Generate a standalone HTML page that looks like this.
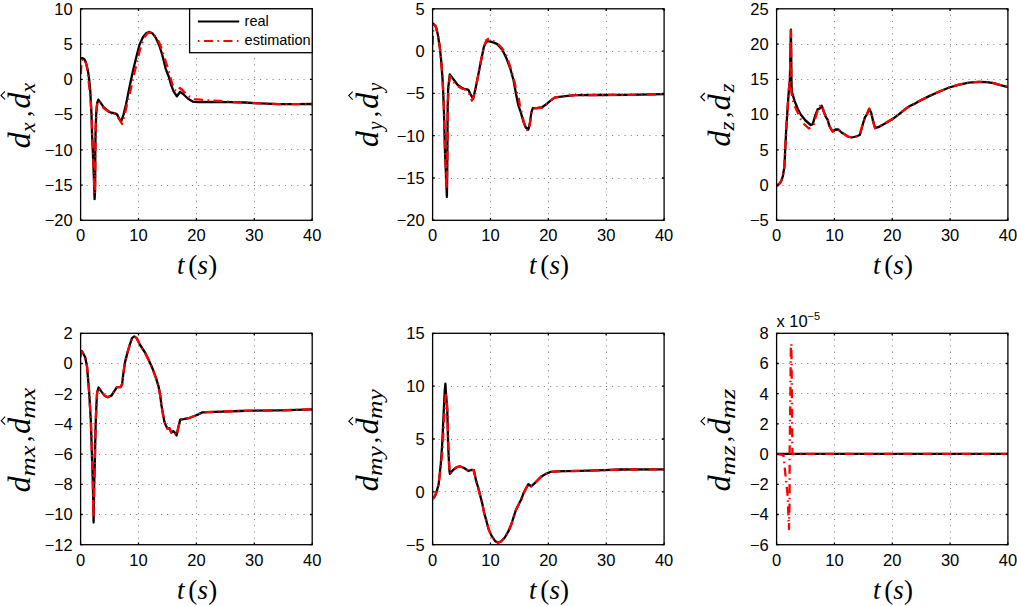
<!DOCTYPE html><html><head><meta charset="utf-8"><style>html,body{margin:0;padding:0;background:#fff;}svg{display:block;}.tk{font-family:"Liberation Sans",sans-serif;font-size:16.5px;fill:#000;}.mt{font-family:"Liberation Serif",serif;fill:#000;}</style></head><body>
<svg width="1017" height="606" viewBox="0 0 1017 606">
<rect width="1017" height="606" fill="#fff"/>
<g stroke="#7a7a7a" stroke-width="1" stroke-dasharray="1 5.2" stroke-dashoffset="0.25"><line x1="138.5" y1="8.8" x2="138.5" y2="220.3"/><line x1="196.5" y1="8.8" x2="196.5" y2="220.3"/><line x1="254.5" y1="8.8" x2="254.5" y2="220.3"/><line x1="80.6" y1="44.5" x2="312.2" y2="44.5"/><line x1="80.6" y1="79.5" x2="312.2" y2="79.5"/><line x1="80.6" y1="114.5" x2="312.2" y2="114.5"/><line x1="80.6" y1="149.5" x2="312.2" y2="149.5"/><line x1="80.6" y1="185.5" x2="312.2" y2="185.5"/></g>
<clipPath id="c0"><rect x="80.4" y="8.6" width="232" height="211.9"/></clipPath>
<g clip-path="url(#c0)"><path d="M80.6 58.5L82.0 58.1L83.5 58.6L84.8 59.8L85.8 62.2L86.7 65.7L87.5 69.0L88.2 72.7L89.2 79.6L90.2 89.5L90.7 99.4L91.5 115.0L92.1 134.8L93.2 159.5L94.1 184.3L94.6 199.1L95.1 190.0L95.2 176.0L95.3 151.0L95.6 130.0L96.3 112.0L97.2 103.0L98.3 99.6L100.9 103.2L103.6 107.2L106.9 109.8L110.2 112.4L114.1 113.2L116.8 114.1L118.8 117.7L121.1 121.7L123.4 115.1L126.0 104.5L128.5 92.0L131.0 80.0L133.5 68.5L136.9 54.7L139.5 44.8L142.8 37.5L146.1 33.3L149.4 31.9L152.7 33.6L156.0 38.2L159.3 45.5L162.3 55.0L165.8 69.1L168.7 76.5L171.1 84.8L173.6 91.4L176.9 96.3L180.2 91.8L183.9 94.7L188.1 98.8L193.0 101.7L198.0 102.1L210.0 101.8L230.0 102.1L245.0 102.5L254.0 103.1L279.0 104.2L295.0 104.2L312.2 104.0" fill="none" stroke="#000" stroke-width="2.3" stroke-linejoin="round"/><path d="M80.9 74.0L81.2 66.0L81.8 61.0L83.0 58.8L84.8 60.0L86.2 63.8L87.5 70.0L88.7 81.6L89.7 91.5L90.6 100.0L91.6 115.0L92.2 134.8L93.3 159.5L94.1 180.0L94.6 194.0L95.1 185.0L95.3 165.0L95.5 145.0L95.8 127.0L96.5 110.0L97.4 102.5L98.4 100.5L101.0 104.0L103.6 108.0L107.0 110.5L110.2 113.0L114.1 113.5L116.8 115.0L119.0 119.0L122.1 124.0L124.0 117.7L126.2 108.0L128.0 99.9L130.0 92.6L132.5 81.0L134.8 71.0L136.6 64.6L138.4 56.0L140.2 48.8L142.5 42.0L144.8 36.9L147.0 33.8L149.5 32.3L152.5 33.2L155.5 36.5L158.0 40.2L160.0 44.5L162.0 49.4L164.6 58.0L167.5 67.0L170.0 76.0L172.4 84.5L174.5 89.5L176.5 91.5L178.2 90.5L179.8 88.0L182.0 89.5L183.9 91.8L188.9 96.3L194.7 99.2L200.4 99.6L207.9 100.4L220.0 101.0L234.0 102.2L245.0 102.5L254.0 103.1L279.0 104.2L295.0 104.2L312.2 104.0" fill="none" stroke="#f00" stroke-width="2.3" stroke-linejoin="round" stroke-dasharray="9 4.5 1.5 4.5"/></g>
<path d="M80.6 220.3v-2.2M80.6 8.8v2.2M138.5 220.3v-2.2M138.5 8.8v2.2M196.4 220.3v-2.2M196.4 8.8v2.2M254.3 220.3v-2.2M254.3 8.8v2.2M312.2 220.3v-2.2M312.2 8.8v2.2M80.6 8.8h2.2M312.2 8.8h-2.2M80.6 44.05h2.2M312.2 44.05h-2.2M80.6 79.3h2.2M312.2 79.3h-2.2M80.6 114.55h2.2M312.2 114.55h-2.2M80.6 149.8h2.2M312.2 149.8h-2.2M80.6 185.05h2.2M312.2 185.05h-2.2M80.6 220.3h2.2M312.2 220.3h-2.2" stroke="#000" stroke-width="1.3" fill="none"/>
<rect x="80.6" y="8.8" width="231.6" height="211.5" fill="none" stroke="#000" stroke-width="1.3"/>
<g class="tk"><text x="80.6" y="241.2" text-anchor="middle">0</text><text x="138.5" y="241.2" text-anchor="middle">10</text><text x="196.4" y="241.2" text-anchor="middle">20</text><text x="254.3" y="241.2" text-anchor="middle">30</text><text x="312.2" y="241.2" text-anchor="middle">40</text><text x="72.7" y="14.7" text-anchor="end">10</text><text x="72.7" y="49.95" text-anchor="end">5</text><text x="72.7" y="85.2" text-anchor="end">0</text><text x="72.7" y="120.45" text-anchor="end">−5</text><text x="72.7" y="155.7" text-anchor="end">−10</text><text x="72.7" y="190.95" text-anchor="end">−15</text><text x="72.7" y="226.2" text-anchor="end">−20</text></g>
<g stroke="#7a7a7a" stroke-width="1" stroke-dasharray="1 5.2" stroke-dashoffset="0.25"><line x1="490.5" y1="8.8" x2="490.5" y2="220.3"/><line x1="548.5" y1="8.8" x2="548.5" y2="220.3"/><line x1="606.5" y1="8.8" x2="606.5" y2="220.3"/><line x1="432.6" y1="51.5" x2="664.1" y2="51.5"/><line x1="432.6" y1="93.5" x2="664.1" y2="93.5"/><line x1="432.6" y1="135.5" x2="664.1" y2="135.5"/><line x1="432.6" y1="178.5" x2="664.1" y2="178.5"/></g>
<clipPath id="c1"><rect x="432.4" y="8.6" width="231.9" height="211.9"/></clipPath>
<g clip-path="url(#c1)"><path d="M432.6 24.0L433.3 23.6L435.9 26.9L437.9 34.8L439.9 48.0L441.2 61.2L442.5 78.4L443.3 95.0L443.9 109.8L444.9 149.4L445.9 173.0L446.9 196.9L447.2 175.0L447.4 150.0L447.5 129.6L447.7 105.0L448.2 88.0L449.8 74.4L453.8 79.7L457.7 85.0L461.7 87.7L464.0 88.8L467.0 89.3L468.6 90.1L470.6 94.7L473.2 98.7L475.9 86.8L478.5 73.6L481.1 60.4L483.8 47.2L485.5 43.0L487.1 41.2L491.7 41.9L497.0 43.9L502.3 49.8L506.2 57.7L510.2 68.3L513.5 80.0L515.3 90.0L516.8 97.8L518.4 105.7L520.9 112.7L523.4 121.6L525.8 127.5L528.3 129.5L529.8 123.6L531.3 112.7L532.8 108.2L537.7 108.0L541.7 107.5L545.6 104.8L549.6 101.3L554.6 97.6L559.5 96.8L565.4 96.1L575.5 95.2L600.0 95.0L630.0 94.8L664.1 94.1" fill="none" stroke="#000" stroke-width="2.3" stroke-linejoin="round"/><path d="M432.6 45.0L433.0 32.0L434.0 25.0L435.5 25.5L438.0 35.0L440.0 48.5L441.3 61.5L442.6 78.4L443.4 95.0L444.0 110.0L445.0 149.0L445.9 170.0L446.6 189.0L447.1 170.0L447.4 150.0L447.6 130.0L447.9 105.0L448.5 88.0L450.0 76.0L452.0 80.0L454.0 82.5L457.7 86.0L461.7 88.5L465.0 89.5L468.6 92.0L470.6 97.0L471.9 100.7L474.0 95.0L476.5 84.0L479.0 71.0L481.5 58.0L484.0 47.0L486.5 40.0L489.1 38.6L492.5 40.5L497.5 43.5L501.0 47.0L504.9 52.0L508.0 60.0L511.5 71.0L514.5 82.0L516.5 91.0L518.8 98.7L520.0 106.0L521.8 113.0L523.8 122.0L526.0 128.5L528.0 131.0L529.8 125.0L531.3 113.0L532.8 108.5L537.7 108.0L541.7 107.5L545.6 104.8L549.6 101.3L554.6 97.6L559.5 96.8L565.4 96.1L575.5 95.2L600.0 95.0L630.0 94.8L664.1 94.1" fill="none" stroke="#f00" stroke-width="2.3" stroke-linejoin="round" stroke-dasharray="9 4.5 1.5 4.5"/></g>
<path d="M432.6 220.3v-2.2M432.6 8.8v2.2M490.48 220.3v-2.2M490.48 8.8v2.2M548.35 220.3v-2.2M548.35 8.8v2.2M606.23 220.3v-2.2M606.23 8.8v2.2M664.1 220.3v-2.2M664.1 8.8v2.2M432.6 8.8h2.2M664.1 8.8h-2.2M432.6 51.1h2.2M664.1 51.1h-2.2M432.6 93.4h2.2M664.1 93.4h-2.2M432.6 135.7h2.2M664.1 135.7h-2.2M432.6 178h2.2M664.1 178h-2.2M432.6 220.3h2.2M664.1 220.3h-2.2" stroke="#000" stroke-width="1.3" fill="none"/>
<rect x="432.6" y="8.8" width="231.5" height="211.5" fill="none" stroke="#000" stroke-width="1.3"/>
<g class="tk"><text x="432.6" y="241.2" text-anchor="middle">0</text><text x="490.48" y="241.2" text-anchor="middle">10</text><text x="548.35" y="241.2" text-anchor="middle">20</text><text x="606.23" y="241.2" text-anchor="middle">30</text><text x="664.1" y="241.2" text-anchor="middle">40</text><text x="424.7" y="14.7" text-anchor="end">5</text><text x="424.7" y="57" text-anchor="end">0</text><text x="424.7" y="99.3" text-anchor="end">−5</text><text x="424.7" y="141.6" text-anchor="end">−10</text><text x="424.7" y="183.9" text-anchor="end">−15</text><text x="424.7" y="226.2" text-anchor="end">−20</text></g>
<g stroke="#7a7a7a" stroke-width="1" stroke-dasharray="1 5.2" stroke-dashoffset="0.25"><line x1="834.5" y1="8.8" x2="834.5" y2="220.3"/><line x1="892.5" y1="8.8" x2="892.5" y2="220.3"/><line x1="950.5" y1="8.8" x2="950.5" y2="220.3"/><line x1="776.6" y1="44.5" x2="1007.9" y2="44.5"/><line x1="776.6" y1="79.5" x2="1007.9" y2="79.5"/><line x1="776.6" y1="114.5" x2="1007.9" y2="114.5"/><line x1="776.6" y1="149.5" x2="1007.9" y2="149.5"/><line x1="776.6" y1="185.5" x2="1007.9" y2="185.5"/></g>
<clipPath id="c2"><rect x="776.4" y="8.6" width="231.7" height="211.9"/></clipPath>
<g clip-path="url(#c2)"><path d="M776.6 185.6L777.5 185.4L779.9 183.2L781.5 180.5L782.9 175.8L784.4 166.9L785.1 152.0L786.2 129.7L787.2 114.9L787.8 105.0L788.9 89.7L789.9 79.8L790.5 50.0L790.9 29.6L791.2 50.0L791.4 75.0L791.6 86.0L792.0 92.3L794.5 100.7L797.8 109.0L800.9 114.7L805.5 120.5L810.8 125.0L812.8 124.1L815.2 115.6L817.7 109.2L819.7 108.7L821.7 105.7L823.7 111.7L825.6 116.6L827.6 119.6L829.6 126.5L832.6 131.5L835.5 129.5L838.5 129.5L841.5 132.5L844.5 134.2L847.9 136.5L851.9 137.5L855.8 136.5L859.8 135.0L861.8 127.6L864.8 117.7L867.2 113.8L869.2 108.8L871.2 112.8L873.2 121.7L875.1 128.1L879.6 126.6L884.6 123.7L889.5 120.7L894.5 117.7L899.4 113.8L904.4 109.8L909.3 106.3L914.3 103.9L919.8 100.8L929.7 95.9L939.5 91.5L949.3 87.5L959.2 84.6L969.0 82.6L978.8 81.8L986.7 82.1L993.6 83.1L1000.5 85.1L1007.9 87.2" fill="none" stroke="#000" stroke-width="2.3" stroke-linejoin="round"/><path d="M776.6 185.6L777.5 185.4L779.9 183.2L781.5 180.5L782.9 175.8L784.4 166.9L785.1 152.0L786.2 129.7L787.2 114.9L787.8 105.0L788.9 89.7L789.9 79.8L790.5 50.0L790.9 30.5L791.1 55.0L791.3 80.0L791.4 92.7L793.9 104.6L797.3 111.5L800.8 119.4L804.0 124.0L808.8 128.5L812.0 127.0L814.0 124.0L816.0 116.0L818.5 108.0L821.2 104.3L823.7 111.0L825.6 116.6L827.6 119.6L829.6 126.5L832.6 131.5L835.5 129.5L838.5 129.5L841.5 132.5L844.5 134.2L847.9 136.5L851.9 137.5L855.8 136.5L859.8 135.0L861.8 127.6L864.8 117.7L867.2 113.8L869.2 108.8L871.2 112.8L873.2 121.7L875.1 128.1L879.6 126.6L884.6 123.7L889.5 120.7L894.5 117.7L899.4 113.8L904.4 109.8L909.3 106.3L914.3 103.9L919.8 100.8L929.7 95.9L939.5 91.5L949.3 87.5L959.2 84.6L969.0 82.6L978.8 81.8L986.7 82.1L993.6 83.1L1000.5 85.1L1007.9 87.2" fill="none" stroke="#f00" stroke-width="2.3" stroke-linejoin="round" stroke-dasharray="9 4.5 1.5 4.5"/></g>
<path d="M776.6 220.3v-2.2M776.6 8.8v2.2M834.42 220.3v-2.2M834.42 8.8v2.2M892.25 220.3v-2.2M892.25 8.8v2.2M950.08 220.3v-2.2M950.08 8.8v2.2M1007.9 220.3v-2.2M1007.9 8.8v2.2M776.6 8.8h2.2M1007.9 8.8h-2.2M776.6 44.05h2.2M1007.9 44.05h-2.2M776.6 79.3h2.2M1007.9 79.3h-2.2M776.6 114.55h2.2M1007.9 114.55h-2.2M776.6 149.8h2.2M1007.9 149.8h-2.2M776.6 185.05h2.2M1007.9 185.05h-2.2M776.6 220.3h2.2M1007.9 220.3h-2.2" stroke="#000" stroke-width="1.3" fill="none"/>
<rect x="776.6" y="8.8" width="231.3" height="211.5" fill="none" stroke="#000" stroke-width="1.3"/>
<g class="tk"><text x="776.6" y="241.2" text-anchor="middle">0</text><text x="834.42" y="241.2" text-anchor="middle">10</text><text x="892.25" y="241.2" text-anchor="middle">20</text><text x="950.08" y="241.2" text-anchor="middle">30</text><text x="1007.9" y="241.2" text-anchor="middle">40</text><text x="768.7" y="14.7" text-anchor="end">25</text><text x="768.7" y="49.95" text-anchor="end">20</text><text x="768.7" y="85.2" text-anchor="end">15</text><text x="768.7" y="120.45" text-anchor="end">10</text><text x="768.7" y="155.7" text-anchor="end">5</text><text x="768.7" y="190.95" text-anchor="end">0</text><text x="768.7" y="226.2" text-anchor="end">−5</text></g>
<g stroke="#7a7a7a" stroke-width="1" stroke-dasharray="1 5.2" stroke-dashoffset="0.25"><line x1="138.5" y1="333.3" x2="138.5" y2="544.7"/><line x1="196.5" y1="333.3" x2="196.5" y2="544.7"/><line x1="254.5" y1="333.3" x2="254.5" y2="544.7"/><line x1="80.6" y1="363.5" x2="312.2" y2="363.5"/><line x1="80.6" y1="393.5" x2="312.2" y2="393.5"/><line x1="80.6" y1="423.5" x2="312.2" y2="423.5"/><line x1="80.6" y1="454.5" x2="312.2" y2="454.5"/><line x1="80.6" y1="484.5" x2="312.2" y2="484.5"/><line x1="80.6" y1="514.5" x2="312.2" y2="514.5"/></g>
<clipPath id="c3"><rect x="80.4" y="333.1" width="232" height="211.8"/></clipPath>
<g clip-path="url(#c3)"><path d="M80.8 350.8L82.0 351.2L85.2 357.2L87.0 366.4L87.9 377.0L89.2 392.8L89.9 405.0L90.8 420.0L91.3 434.8L92.1 459.6L92.9 484.4L93.6 522.6L94.2 484.4L94.9 459.6L95.4 434.8L95.8 420.0L96.5 403.4L97.1 392.8L98.5 387.5L101.8 392.1L104.4 395.4L107.7 397.2L111.7 395.4L113.5 392.4L116.9 387.2L120.4 387.2L122.1 384.3L123.3 373.9L125.0 362.4L127.3 353.1L129.7 345.0L132.0 338.1L134.3 336.4L136.6 338.1L140.1 345.0L144.7 352.0L149.3 361.2L152.8 369.3L156.2 378.6L158.6 386.6L160.3 396.0L161.4 404.9L162.9 413.8L164.4 421.7L165.9 425.6L167.4 428.6L169.4 428.1L171.3 432.6L173.3 431.1L174.8 432.6L176.6 435.5L178.3 427.6L180.2 419.7L183.7 419.2L188.7 418.2L193.6 416.2L198.6 414.3L202.5 412.3L207.5 412.2L215.0 411.8L240.0 411.0L254.0 410.7L280.0 410.3L312.2 409.4" fill="none" stroke="#000" stroke-width="2.3" stroke-linejoin="round"/><path d="M80.6 357.0L81.3 352.5L82.0 351.2L85.2 357.2L87.0 366.4L87.9 377.0L89.2 392.8L89.9 405.0L90.8 420.0L91.3 434.8L92.1 459.6L92.9 484.4L93.4 518.0L94.2 484.4L94.9 459.6L95.4 434.8L95.8 420.0L96.5 403.4L97.1 392.8L98.5 387.5L101.8 392.1L104.4 395.4L107.7 397.2L111.7 395.4L113.5 392.4L116.9 387.2L120.4 387.2L122.1 384.3L123.3 373.9L125.0 362.4L127.3 353.1L129.7 345.0L132.0 338.1L134.3 336.4L136.6 338.1L140.1 345.0L144.7 352.0L149.3 361.2L152.8 369.3L156.2 378.6L158.6 386.6L160.3 396.0L161.4 404.9L162.9 413.8L164.4 421.7L165.9 425.6L167.4 428.6L169.4 428.1L171.3 432.6L173.3 431.1L174.8 432.6L176.6 435.5L178.3 427.6L180.2 419.7L183.7 419.2L188.7 418.2L193.6 416.2L198.6 414.3L202.5 412.3L207.5 412.2L215.0 411.8L240.0 411.0L254.0 410.7L280.0 410.3L312.2 409.4" fill="none" stroke="#f00" stroke-width="2.3" stroke-linejoin="round" stroke-dasharray="9 4.5 1.5 4.5"/></g>
<path d="M80.6 544.7v-2.2M80.6 333.3v2.2M138.5 544.7v-2.2M138.5 333.3v2.2M196.4 544.7v-2.2M196.4 333.3v2.2M254.3 544.7v-2.2M254.3 333.3v2.2M312.2 544.7v-2.2M312.2 333.3v2.2M80.6 333.3h2.2M312.2 333.3h-2.2M80.6 363.5h2.2M312.2 363.5h-2.2M80.6 393.7h2.2M312.2 393.7h-2.2M80.6 423.9h2.2M312.2 423.9h-2.2M80.6 454.1h2.2M312.2 454.1h-2.2M80.6 484.3h2.2M312.2 484.3h-2.2M80.6 514.5h2.2M312.2 514.5h-2.2M80.6 544.7h2.2M312.2 544.7h-2.2" stroke="#000" stroke-width="1.3" fill="none"/>
<rect x="80.6" y="333.3" width="231.6" height="211.4" fill="none" stroke="#000" stroke-width="1.3"/>
<g class="tk"><text x="80.6" y="565.6" text-anchor="middle">0</text><text x="138.5" y="565.6" text-anchor="middle">10</text><text x="196.4" y="565.6" text-anchor="middle">20</text><text x="254.3" y="565.6" text-anchor="middle">30</text><text x="312.2" y="565.6" text-anchor="middle">40</text><text x="72.7" y="339.2" text-anchor="end">2</text><text x="72.7" y="369.4" text-anchor="end">0</text><text x="72.7" y="399.6" text-anchor="end">−2</text><text x="72.7" y="429.8" text-anchor="end">−4</text><text x="72.7" y="460" text-anchor="end">−6</text><text x="72.7" y="490.2" text-anchor="end">−8</text><text x="72.7" y="520.4" text-anchor="end">−10</text><text x="72.7" y="550.6" text-anchor="end">−12</text></g>
<g stroke="#7a7a7a" stroke-width="1" stroke-dasharray="1 5.2" stroke-dashoffset="0.25"><line x1="490.5" y1="333.3" x2="490.5" y2="544.7"/><line x1="548.5" y1="333.3" x2="548.5" y2="544.7"/><line x1="606.5" y1="333.3" x2="606.5" y2="544.7"/><line x1="432.6" y1="386.5" x2="664.1" y2="386.5"/><line x1="432.6" y1="439.5" x2="664.1" y2="439.5"/><line x1="432.6" y1="491.5" x2="664.1" y2="491.5"/></g>
<clipPath id="c4"><rect x="432.4" y="333.1" width="231.9" height="211.8"/></clipPath>
<g clip-path="url(#c4)"><path d="M432.6 498.5L434.0 497.5L435.4 495.0L437.0 490.5L438.6 484.3L440.7 465.0L442.2 444.3L443.8 409.7L444.8 390.0L445.4 383.6L446.1 395.0L447.3 409.7L448.1 444.3L449.3 469.3L449.9 473.8L453.3 469.8L456.7 467.2L460.4 466.5L464.1 468.0L468.6 471.0L471.5 469.8L473.8 470.2L476.0 480.2L478.2 487.7L480.4 496.4L482.3 503.6L484.1 512.7L486.4 520.9L488.6 529.1L491.3 535.4L495.0 540.9L498.2 542.7L501.3 541.3L505.0 537.2L508.6 530.9L511.3 524.5L513.6 517.2L515.9 510.0L519.5 502.7L521.2 499.5L523.3 493.8L525.8 488.8L528.3 484.3L531.1 486.3L534.0 483.9L537.3 480.6L541.5 476.4L545.6 474.0L550.6 471.9L557.2 471.3L565.4 471.1L580.0 470.9L605.0 470.2L620.0 469.5L664.1 469.4" fill="none" stroke="#000" stroke-width="2.3" stroke-linejoin="round"/><path d="M432.6 498.5L434.0 497.5L435.4 495.0L437.0 490.5L438.6 484.3L440.9 465.0L442.5 450.0L444.0 420.0L445.2 400.0L446.0 393.0L446.8 400.0L447.6 420.0L448.3 445.0L449.4 469.0L449.9 473.8L453.3 469.8L456.7 467.2L460.4 466.5L464.1 468.0L468.6 471.0L471.5 469.8L473.8 470.2L476.0 480.2L478.2 487.7L480.4 496.4L482.3 503.6L484.1 512.7L486.4 520.9L488.6 529.1L491.3 535.4L495.0 540.9L498.2 542.7L501.3 541.3L505.0 537.2L508.6 530.9L511.3 524.5L513.6 517.2L515.9 510.0L519.5 502.7L521.2 499.5L523.3 493.8L525.8 488.8L528.3 484.3L531.1 486.3L534.0 483.9L537.3 480.6L541.5 476.4L545.6 474.0L550.6 471.9L557.2 471.3L565.4 471.1L580.0 470.9L605.0 470.2L620.0 469.5L664.1 469.4" fill="none" stroke="#f00" stroke-width="2.3" stroke-linejoin="round" stroke-dasharray="9 4.5 1.5 4.5"/></g>
<path d="M432.6 544.7v-2.2M432.6 333.3v2.2M490.48 544.7v-2.2M490.48 333.3v2.2M548.35 544.7v-2.2M548.35 333.3v2.2M606.23 544.7v-2.2M606.23 333.3v2.2M664.1 544.7v-2.2M664.1 333.3v2.2M432.6 333.3h2.2M664.1 333.3h-2.2M432.6 386.15h2.2M664.1 386.15h-2.2M432.6 439h2.2M664.1 439h-2.2M432.6 491.85h2.2M664.1 491.85h-2.2M432.6 544.7h2.2M664.1 544.7h-2.2" stroke="#000" stroke-width="1.3" fill="none"/>
<rect x="432.6" y="333.3" width="231.5" height="211.4" fill="none" stroke="#000" stroke-width="1.3"/>
<g class="tk"><text x="432.6" y="565.6" text-anchor="middle">0</text><text x="490.48" y="565.6" text-anchor="middle">10</text><text x="548.35" y="565.6" text-anchor="middle">20</text><text x="606.23" y="565.6" text-anchor="middle">30</text><text x="664.1" y="565.6" text-anchor="middle">40</text><text x="424.7" y="339.2" text-anchor="end">15</text><text x="424.7" y="392.05" text-anchor="end">10</text><text x="424.7" y="444.9" text-anchor="end">5</text><text x="424.7" y="497.75" text-anchor="end">0</text><text x="424.7" y="550.6" text-anchor="end">−5</text></g>
<g stroke="#7a7a7a" stroke-width="1" stroke-dasharray="1 5.2" stroke-dashoffset="0.25"><line x1="834.5" y1="333.3" x2="834.5" y2="544.7"/><line x1="892.5" y1="333.3" x2="892.5" y2="544.7"/><line x1="950.5" y1="333.3" x2="950.5" y2="544.7"/><line x1="776.6" y1="363.5" x2="1007.9" y2="363.5"/><line x1="776.6" y1="393.5" x2="1007.9" y2="393.5"/><line x1="776.6" y1="423.5" x2="1007.9" y2="423.5"/><line x1="776.6" y1="454.5" x2="1007.9" y2="454.5"/><line x1="776.6" y1="484.5" x2="1007.9" y2="484.5"/><line x1="776.6" y1="514.5" x2="1007.9" y2="514.5"/></g>
<clipPath id="c5"><rect x="776.4" y="333.1" width="231.7" height="211.8"/></clipPath>
<g clip-path="url(#c5)"><path d="M776.6 453.9L1007.9 453.9" fill="none" stroke="#000" stroke-width="2.3" stroke-linejoin="round"/><path d="M776.6 453.9L783.4 455.0L786.0 480.0L787.5 494.0L789.0 529.0L789.6 500.0L789.6 454.0L790.3 400.0L790.9 344.0L791.4 344.0L791.9 400.0L792.4 454.0L795.0 453.9L1007.9 453.9" fill="none" stroke="#f00" stroke-width="2.3" stroke-linejoin="round" stroke-dasharray="9 4.5 1.5 4.5"/></g>
<path d="M776.6 544.7v-2.2M776.6 333.3v2.2M834.42 544.7v-2.2M834.42 333.3v2.2M892.25 544.7v-2.2M892.25 333.3v2.2M950.08 544.7v-2.2M950.08 333.3v2.2M1007.9 544.7v-2.2M1007.9 333.3v2.2M776.6 333.3h2.2M1007.9 333.3h-2.2M776.6 363.5h2.2M1007.9 363.5h-2.2M776.6 393.7h2.2M1007.9 393.7h-2.2M776.6 423.9h2.2M1007.9 423.9h-2.2M776.6 454.1h2.2M1007.9 454.1h-2.2M776.6 484.3h2.2M1007.9 484.3h-2.2M776.6 514.5h2.2M1007.9 514.5h-2.2M776.6 544.7h2.2M1007.9 544.7h-2.2" stroke="#000" stroke-width="1.3" fill="none"/>
<rect x="776.6" y="333.3" width="231.3" height="211.4" fill="none" stroke="#000" stroke-width="1.3"/>
<g class="tk"><text x="776.6" y="565.6" text-anchor="middle">0</text><text x="834.42" y="565.6" text-anchor="middle">10</text><text x="892.25" y="565.6" text-anchor="middle">20</text><text x="950.08" y="565.6" text-anchor="middle">30</text><text x="1007.9" y="565.6" text-anchor="middle">40</text><text x="768.7" y="339.2" text-anchor="end">8</text><text x="768.7" y="369.4" text-anchor="end">6</text><text x="768.7" y="399.6" text-anchor="end">4</text><text x="768.7" y="429.8" text-anchor="end">2</text><text x="768.7" y="460" text-anchor="end">0</text><text x="768.7" y="490.2" text-anchor="end">−2</text><text x="768.7" y="520.4" text-anchor="end">−4</text><text x="768.7" y="550.6" text-anchor="end">−6</text></g>
<rect x="189.6" y="8.8" width="122.6" height="43.9" fill="#fff" stroke="#000" stroke-width="1.3"/>
<line x1="197.9" y1="21.6" x2="239.2" y2="21.6" stroke="#000" stroke-width="2"/>
<line x1="197.9" y1="40.9" x2="239.2" y2="40.9" stroke="#f00" stroke-width="2" stroke-dasharray="1.5 4.5 9 4.5"/>
<g class="tk" style="font-size:14.5px"><text x="244.6" y="25.7">real</text><text x="244.6" y="44.8">estimation</text></g>
<text x="177.11" y="273.5" style="font-family:'Liberation Serif',serif;font-size:27px;font-style:italic;">t</text>
<text x="188.31" y="273.5" style="font-family:'Liberation Serif',serif;font-size:27px;">(</text>
<text x="197.48" y="273.5" style="font-family:'Liberation Serif',serif;font-size:27px;font-style:italic;">s</text>
<text x="208.14" y="273.5" style="font-family:'Liberation Serif',serif;font-size:27px;">)</text>
<text x="529.06" y="273.5" style="font-family:'Liberation Serif',serif;font-size:27px;font-style:italic;">t</text>
<text x="540.26" y="273.5" style="font-family:'Liberation Serif',serif;font-size:27px;">(</text>
<text x="549.43" y="273.5" style="font-family:'Liberation Serif',serif;font-size:27px;font-style:italic;">s</text>
<text x="560.09" y="273.5" style="font-family:'Liberation Serif',serif;font-size:27px;">)</text>
<text x="872.96" y="273.5" style="font-family:'Liberation Serif',serif;font-size:27px;font-style:italic;">t</text>
<text x="884.16" y="273.5" style="font-family:'Liberation Serif',serif;font-size:27px;">(</text>
<text x="893.33" y="273.5" style="font-family:'Liberation Serif',serif;font-size:27px;font-style:italic;">s</text>
<text x="903.99" y="273.5" style="font-family:'Liberation Serif',serif;font-size:27px;">)</text>
<text x="177.11" y="599.3" style="font-family:'Liberation Serif',serif;font-size:27px;font-style:italic;">t</text>
<text x="188.31" y="599.3" style="font-family:'Liberation Serif',serif;font-size:27px;">(</text>
<text x="197.48" y="599.3" style="font-family:'Liberation Serif',serif;font-size:27px;font-style:italic;">s</text>
<text x="208.14" y="599.3" style="font-family:'Liberation Serif',serif;font-size:27px;">)</text>
<text x="529.06" y="599.3" style="font-family:'Liberation Serif',serif;font-size:27px;font-style:italic;">t</text>
<text x="540.26" y="599.3" style="font-family:'Liberation Serif',serif;font-size:27px;">(</text>
<text x="549.43" y="599.3" style="font-family:'Liberation Serif',serif;font-size:27px;font-style:italic;">s</text>
<text x="560.09" y="599.3" style="font-family:'Liberation Serif',serif;font-size:27px;">)</text>
<text x="872.96" y="599.3" style="font-family:'Liberation Serif',serif;font-size:27px;font-style:italic;">t</text>
<text x="884.16" y="599.3" style="font-family:'Liberation Serif',serif;font-size:27px;">(</text>
<text x="893.33" y="599.3" style="font-family:'Liberation Serif',serif;font-size:27px;font-style:italic;">s</text>
<text x="903.99" y="599.3" style="font-family:'Liberation Serif',serif;font-size:27px;">)</text>
<g transform="translate(30 147.6) rotate(-90)"><text transform="translate(-0.98 0) scale(1.05 1)" style="font-family:'Liberation Serif',serif;font-size:31px;font-style:italic;">d</text><text transform="translate(15.37 4.5) scale(1.04 1)" style="font-family:'Liberation Serif',serif;font-size:21.5px;font-style:italic">x</text><text transform="translate(30.61 0.5) scale(1.0 1)" style="font-family:'Liberation Serif',serif;font-size:26px;">,</text><text transform="translate(38.82 0) scale(1.05 1)" style="font-family:'Liberation Serif',serif;font-size:31px;font-style:italic;">d</text><text transform="translate(54.97 4.5) scale(1.04 1)" style="font-family:'Liberation Serif',serif;font-size:21.5px;font-style:italic">x</text><path d="M48.2 -25L52.2 -29L56.2 -25" fill="none" stroke="#000" stroke-width="1.1"/></g>
<g transform="translate(377.7 146.3) rotate(-90)"><text transform="translate(-0.98 0) scale(1.05 1)" style="font-family:'Liberation Serif',serif;font-size:31px;font-style:italic;">d</text><text transform="translate(16.14 4.5) scale(0.92 1)" style="font-family:'Liberation Serif',serif;font-size:21.5px;font-style:italic">y</text><text transform="translate(29.01 0.5) scale(1.0 1)" style="font-family:'Liberation Serif',serif;font-size:26px;">,</text><text transform="translate(37.32 0) scale(1.05 1)" style="font-family:'Liberation Serif',serif;font-size:31px;font-style:italic;">d</text><text transform="translate(54.74 4.5) scale(0.92 1)" style="font-family:'Liberation Serif',serif;font-size:21.5px;font-style:italic">y</text><path d="M46.7 -25L50.7 -29L54.7 -25" fill="none" stroke="#000" stroke-width="1.1"/></g>
<g transform="translate(729.8 145.8) rotate(-90)"><text transform="translate(-0.98 0) scale(1.05 1)" style="font-family:'Liberation Serif',serif;font-size:31px;font-style:italic;">d</text><text transform="translate(15.26 4.5) scale(1.08 1)" style="font-family:'Liberation Serif',serif;font-size:21.5px;font-style:italic">z</text><text transform="translate(27.81 0.5) scale(1.0 1)" style="font-family:'Liberation Serif',serif;font-size:26px;">,</text><text transform="translate(35.42 0) scale(1.05 1)" style="font-family:'Liberation Serif',serif;font-size:31px;font-style:italic;">d</text><text transform="translate(53.36 4.5) scale(1.08 1)" style="font-family:'Liberation Serif',serif;font-size:21.5px;font-style:italic">z</text><path d="M44.8 -25L48.8 -29L52.8 -25" fill="none" stroke="#000" stroke-width="1.1"/></g>
<g transform="translate(30.2 491.5) rotate(-90)"><text transform="translate(-0.98 0) scale(1.05 1)" style="font-family:'Liberation Serif',serif;font-size:31px;font-style:italic;">d</text><text transform="translate(14.94 4.5) scale(1.24 1)" style="font-family:'Liberation Serif',serif;font-size:21.5px;font-style:italic">m</text><text transform="translate(34.23 4.5) scale(1.24 1)" style="font-family:'Liberation Serif',serif;font-size:21.5px;font-style:italic">x</text><text transform="translate(49.51 0.5) scale(1.0 1)" style="font-family:'Liberation Serif',serif;font-size:26px;">,</text><text transform="translate(57.42 0) scale(1.05 1)" style="font-family:'Liberation Serif',serif;font-size:31px;font-style:italic;">d</text><text transform="translate(72.64 4.5) scale(1.24 1)" style="font-family:'Liberation Serif',serif;font-size:21.5px;font-style:italic">m</text><text transform="translate(91.93 4.5) scale(1.24 1)" style="font-family:'Liberation Serif',serif;font-size:21.5px;font-style:italic">x</text><path d="M66.8 -25L70.8 -29L74.8 -25" fill="none" stroke="#000" stroke-width="1.1"/></g>
<g transform="translate(377.9 490.6) rotate(-90)"><text transform="translate(-0.98 0) scale(1.05 1)" style="font-family:'Liberation Serif',serif;font-size:31px;font-style:italic;">d</text><text transform="translate(14.68 4.5) scale(1.19 1)" style="font-family:'Liberation Serif',serif;font-size:21.5px;font-style:italic">m</text><text transform="translate(33.21 4.5) scale(1.19 1)" style="font-family:'Liberation Serif',serif;font-size:21.5px;font-style:italic">y</text><text transform="translate(47.31 0.5) scale(1.0 1)" style="font-family:'Liberation Serif',serif;font-size:26px;">,</text><text transform="translate(56.02 0) scale(1.05 1)" style="font-family:'Liberation Serif',serif;font-size:31px;font-style:italic;">d</text><text transform="translate(71.58 4.5) scale(1.19 1)" style="font-family:'Liberation Serif',serif;font-size:21.5px;font-style:italic">m</text><text transform="translate(90.11 4.5) scale(1.19 1)" style="font-family:'Liberation Serif',serif;font-size:21.5px;font-style:italic">y</text><path d="M65.4 -25L69.4 -29L73.4 -25" fill="none" stroke="#000" stroke-width="1.1"/></g>
<g transform="translate(730 490.6) rotate(-90)"><text transform="translate(-0.98 0) scale(1.05 1)" style="font-family:'Liberation Serif',serif;font-size:31px;font-style:italic;">d</text><text transform="translate(15.12 4.5) scale(1.27 1)" style="font-family:'Liberation Serif',serif;font-size:21.5px;font-style:italic">m</text><text transform="translate(34.83 4.5) scale(1.27 1)" style="font-family:'Liberation Serif',serif;font-size:21.5px;font-style:italic">z</text><text transform="translate(48.31 0.5) scale(1.0 1)" style="font-family:'Liberation Serif',serif;font-size:26px;">,</text><text transform="translate(56.02 0) scale(1.05 1)" style="font-family:'Liberation Serif',serif;font-size:31px;font-style:italic;">d</text><text transform="translate(71.52 4.5) scale(1.27 1)" style="font-family:'Liberation Serif',serif;font-size:21.5px;font-style:italic">m</text><text transform="translate(91.23 4.5) scale(1.27 1)" style="font-family:'Liberation Serif',serif;font-size:21.5px;font-style:italic">z</text><path d="M65.4 -25L69.4 -29L73.4 -25" fill="none" stroke="#000" stroke-width="1.1"/></g>
<g class="tk"><text x="776.5" y="326.6">x 10</text><text x="807.5" y="319.5" style="font-size:11px">−5</text></g>
</svg></body></html>
